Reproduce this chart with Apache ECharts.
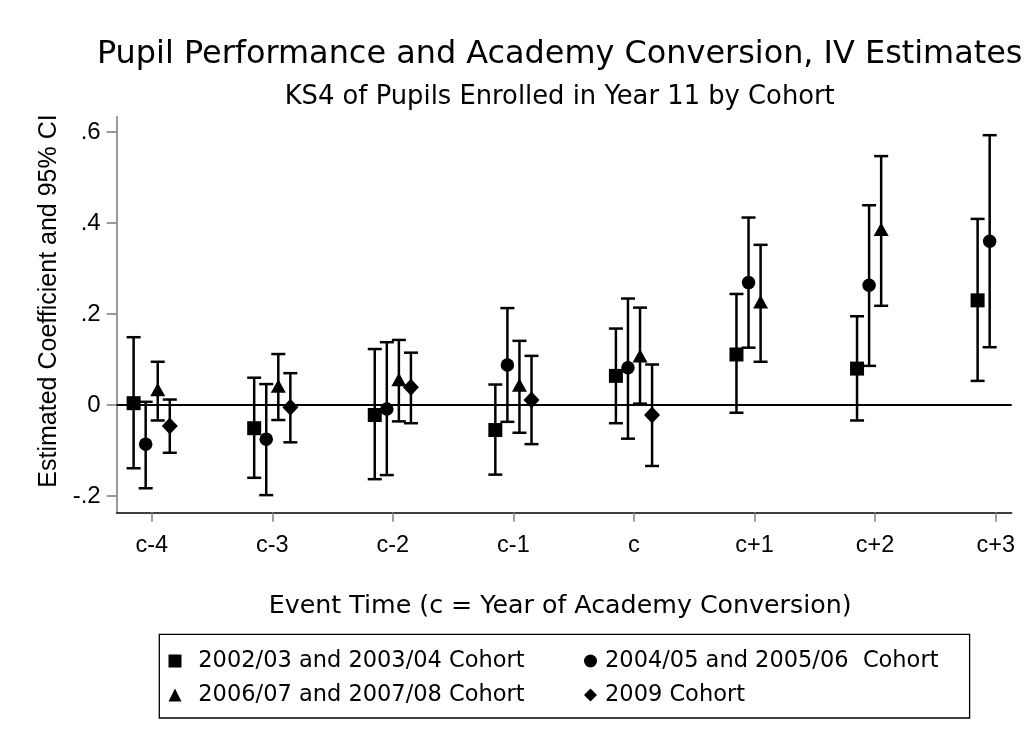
<!DOCTYPE html>
<html>
<head>
<meta charset="utf-8">
<script src="https://cdn.jsdelivr.net/npm/echarts@6/dist/echarts.min.js"></script>
<style>
  html, body { margin: 0; padding: 0; background: #ffffff; }
  #chart { width: 1036px; height: 752px; }
</style>
</head>
<body>
<div id="chart"></div>
<script>
// ---------- data ----------
const categories = ['c-4', 'c-3', 'c-2', 'c-1', 'c', 'c+1', 'c+2', 'c+3'];
const yTickValues = [-0.2, 0, 0.2, 0.4, 0.6];
const yTickLabels = ['-.2', '0', '.2', '.4', '.6'];

const cohortNames = [
  '2002/03 and 2003/04 Cohort',
  '2004/05 and 2005/06  Cohort',
  '2006/07 and 2007/08 Cohort',
  '2009 Cohort'
];

const coefA = [0.004, -0.051, -0.022, -0.055, 0.064, 0.111, 0.080, 0.230];
const lowA  = [-0.139, -0.160, -0.163, -0.153, -0.040, -0.017, -0.034, 0.053];
const highA = [0.149, 0.060, 0.123, 0.045, 0.168, 0.244, 0.195, 0.409];

const coefB = [-0.086, -0.075, -0.009, 0.088, 0.082, 0.269, 0.263, 0.360];
const lowB  = [-0.183, -0.198, -0.154, -0.037, -0.074, 0.126, 0.086, 0.127];
const highB = [0.007, 0.046, 0.138, 0.213, 0.234, 0.412, 0.439, 0.593];

const coefC = [0.034, 0.042, 0.056, 0.044, 0.108, 0.227, 0.386, null];
const lowC  = [-0.034, -0.033, -0.036, -0.061, 0.003, 0.095, 0.218, null];
const highC = [0.095, 0.112, 0.143, 0.141, 0.214, 0.352, 0.547, null];

const coefD = [-0.046, -0.005, 0.039, 0.011, -0.022, null, null, null];
const lowD  = [-0.105, -0.082, -0.040, -0.086, -0.134, null, null, null];
const highD = [0.012, 0.070, 0.115, 0.108, 0.089, null, null, null];

// ---------- layout / style ----------
const cohorts = [
  { coef: coefA, low: lowA, high: highA },
  { coef: coefB, low: lowB, high: highB },
  { coef: coefC, low: lowC, high: highC },
  { coef: coefD, low: lowD, high: highD }
];
const dodge = [-0.15, -0.05, 0.05, 0.15];
const symbols = ['rect', 'circle', 'triangle', 'diamond'];
const symbolSizes = [14, 13.5, [15, 13.5], [16, 17]];
const capHalf = 7;
const hFont = 'DejaVu Sans';
const aFont = 'Liberation Sans';

const scatterSeries = cohorts.map((c, k) => ({
  type: 'scatter',
  name: cohortNames[k],
  symbol: symbols[k],
  symbolSize: symbolSizes[k],
  itemStyle: { color: '#000000', opacity: 1 },
  z: 4,
  data: c.coef.map((v, i) => (v == null ? null : [i + dodge[k], v])).filter(d => d),
  markLine: k === 0 ? {
    silent: true,
    symbol: 'none',
    label: { show: false },
    lineStyle: { color: '#000000', width: 2, type: 'solid' },
    emphasis: { disabled: true },
    data: [{ yAxis: 0 }],
    z: 1
  } : undefined
}));

const errorSeries = cohorts.map((c, k) => ({
  type: 'custom',
  name: cohortNames[k],
  z: 3,
  encode: { x: 0, y: [1, 2] },
  data: c.low.map((l, i) => (l == null ? null : [i + dodge[k], l, c.high[i]])).filter(d => d),
  renderItem: function (params, api) {
    const x = api.value(0);
    const lo = api.coord([x, api.value(1)]);
    const hi = api.coord([x, api.value(2)]);
    const st = { stroke: '#000000', lineWidth: 2.5 };
    return {
      type: 'group',
      children: [
        { type: 'line', shape: { x1: lo[0], y1: lo[1], x2: hi[0], y2: hi[1] }, style: st },
        { type: 'line', shape: { x1: lo[0] - capHalf, y1: lo[1], x2: lo[0] + capHalf, y2: lo[1] }, style: st },
        { type: 'line', shape: { x1: hi[0] - capHalf, y1: hi[1], x2: hi[0] + capHalf, y2: hi[1] }, style: st }
      ]
    };
  }
}));

const legendText = { fontFamily: hFont, fontSize: 22.5, color: '#000000', lineHeight: 24 };

const option = {
  animation: false,
  backgroundColor: '#ffffff',
  title: {
    text: 'Pupil Performance and Academy Conversion, IV Estimates',
    subtext: 'KS4 of Pupils Enrolled in Year 11 by Cohort',
    left: 554.7,
    top: 33.5,
    textAlign: 'center',
    itemGap: 14.2,
    textStyle: { fontFamily: hFont, fontSize: 31.9, fontWeight: 'normal', color: '#000000', lineHeight: 31.9 },
    subtextStyle: { fontFamily: hFont, fontSize: 25.8, color: '#000000', lineHeight: 25.8 }
  },
  legend: [
    {
      orient: 'vertical',
      left: 159.3,
      top: 634.3,
      padding: [14.7, 445, 11, 9.2],
      borderColor: '#000000',
      borderWidth: 1.3,
      itemWidth: 13,
      itemHeight: 13,
      itemGap: 10,
      selectedMode: false,
      data: [cohortNames[0], cohortNames[2]],
      textStyle: Object.assign({ padding: [0, 0, 0, 11.8] }, legendText)
    },
    {
      orient: 'vertical',
      left: 579,
      top: 644,
      itemWidth: 13,
      itemHeight: 13,
      itemGap: 10,
      selectedMode: false,
      data: [cohortNames[1], cohortNames[3]],
      textStyle: Object.assign({ padding: [0, 0, 0, 3] }, legendText)
    }
  ],
  grid: { left: 116.7, right: 24.3, top: 116.7, bottom: 239.7 },
  xAxis: {
    type: 'value',
    min: -0.2903,
    max: 7.1327,
    name: 'Event Time (c = Year of Academy Conversion)',
    nameLocation: 'middle',
    nameGap: 81.5,
    nameTextStyle: { fontFamily: hFont, fontSize: 25.3, color: '#000000', lineHeight: 25.3, padding: [0, 8, 0, 0] },
    axisLine: { show: true, onZero: false, lineStyle: { color: '#000000', width: 1.5 } },
    axisTick: { show: true, length: 9.5, customValues: categories.map((c, i) => i), lineStyle: { color: '#808080', width: 1.5 } },
    axisLabel: {
      customValues: categories.map((c, i) => i),
      formatter: v => categories[Math.round(v)],
      fontFamily: aFont, fontSize: 23.5, color: '#000000', margin: 21
    },
    splitLine: { show: false }
  },
  yAxis: {
    type: 'value',
    min: -0.2358,
    max: 0.6336,
    name: 'Estimated Coefficient and 95% CI',
    nameLocation: 'middle',
    nameGap: 50,
    nameTextStyle: { fontFamily: aFont, fontSize: 25, color: '#000000', lineHeight: 25, padding: [0, 0, 0, 27] },
    axisLine: { show: true, onZero: false, lineStyle: { color: '#7a7a7a', width: 1.5 } },
    axisTick: { show: true, length: 10, customValues: yTickValues, lineStyle: { color: '#7a7a7a', width: 1.5 } },
    axisLabel: {
      customValues: yTickValues,
      formatter: v => yTickLabels[yTickValues.findIndex(t => Math.abs(t - v) < 1e-9)],
      fontFamily: aFont, fontSize: 24, color: '#000000', margin: 16
    },
    splitLine: { show: false }
  },
  series: scatterSeries.concat(errorSeries)
};

const chart = echarts.init(document.getElementById('chart'), null, { renderer: 'canvas' });
chart.setOption(option);
</script>
</body>
</html>
